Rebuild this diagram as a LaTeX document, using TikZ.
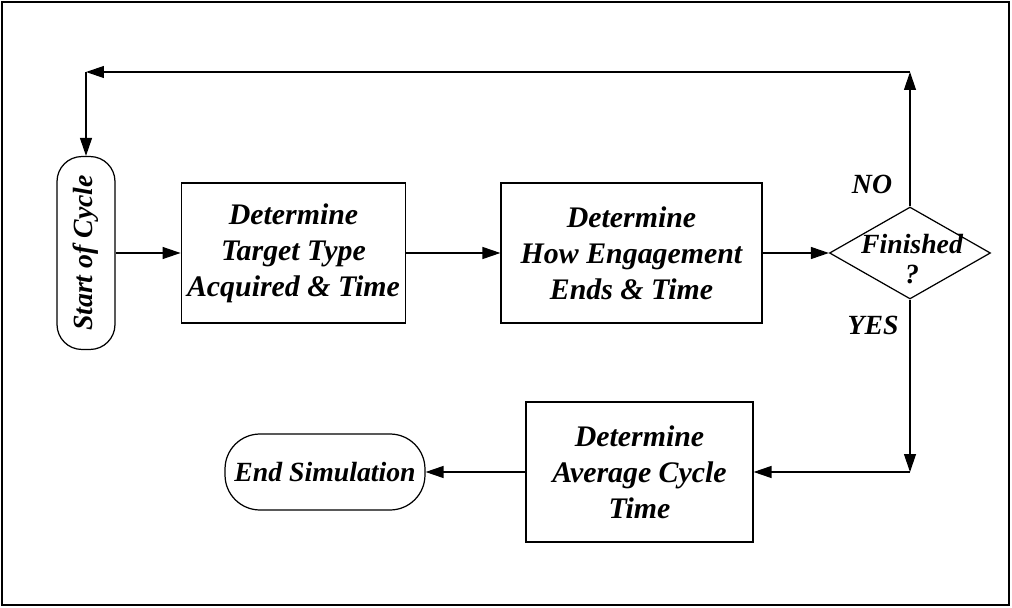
\documentclass[tikz,border=0pt]{standalone}
\usepackage{fontspec}
\setmainfont{Liberation Serif}
\usetikzlibrary{shapes.geometric,arrows.meta}

\newcommand{\boxfont}{\fontsize{17}{20.5}\selectfont\bfseries\itshape}
\newcommand{\tagfont}{\fontsize{15.8}{17.5}\selectfont\bfseries\itshape}

\tikzset{
	block/.style = {draw, line width=0.7pt, align=center, font=\boxfont, minimum height=2.8cm},
	term/.style = {draw, line width=0.7pt, rounded corners=0.5cm, font=\tagfont},
	flow/.style = {line width=0.7pt, -{Triangle[length=0.36cm,width=0.24cm]}},
}

\begin{document}
\begin{tikzpicture}[x=0.02cm, y=-0.02cm]
		\useasboundingbox (0,0) rectangle (1012,608);
		\draw[line width=1.2pt] (2,2) rectangle (1009,605);
		
		\node[term, rotate=90, minimum width=3.86cm, minimum height=1.16cm] (start) at (86,253) {Start of Cycle};
		\node[block, minimum width=4.46cm] (acq) at (293.5,253) {Determine\\Target Type\\Acquired \& Time};
		\node[block, minimum width=5.22cm] (eng) at (631.5,253) {Determine\\How Engagement\\Ends \& Time};
		
		\node[diamond, draw, line width=0.7pt, minimum width=3.22cm, minimum height=1.84cm, inner sep=0pt] (done) at (910,253) {};
		\node[font=\tagfont, align=center] (donetext) at (912,259) {Finished\\?};
		
		\node[font=\tagfont] (no) at (872,184) {NO};
		\node[font=\tagfont] (yes) at (873,325) {YES};
		
		\node[block, minimum width=4.54cm] (avg) at (639.5,472) {Determine\\Average Cycle\\Time};
		\node[term, rounded corners=0.7cm, minimum width=4cm, minimum height=1.52cm] (stop) at (325,472) {End Simulation};
		
		\coordinate (tr) at (done.north |- 0,72);
		\coordinate (tl) at (start.east |- tr);
		\coordinate (br) at (done.south |- avg.east);
		
		\draw[flow] (start.south) -- (acq.west);
		\draw[flow] (acq.east) -- (eng.west);
		\draw[flow] (eng.east) -- (done.west);
		
		\draw[flow] (done.north) -- (tr);
		\draw[flow] (tr) -- (tl);
		\draw[flow] (tl) -- (start.east);
		
		\draw[flow] (done.south) -- (br);
		\draw[flow] (br) -- (avg.east);
		\draw[flow] (avg.west) -- (stop.east);
		
	\end{tikzpicture}
\end{document}
